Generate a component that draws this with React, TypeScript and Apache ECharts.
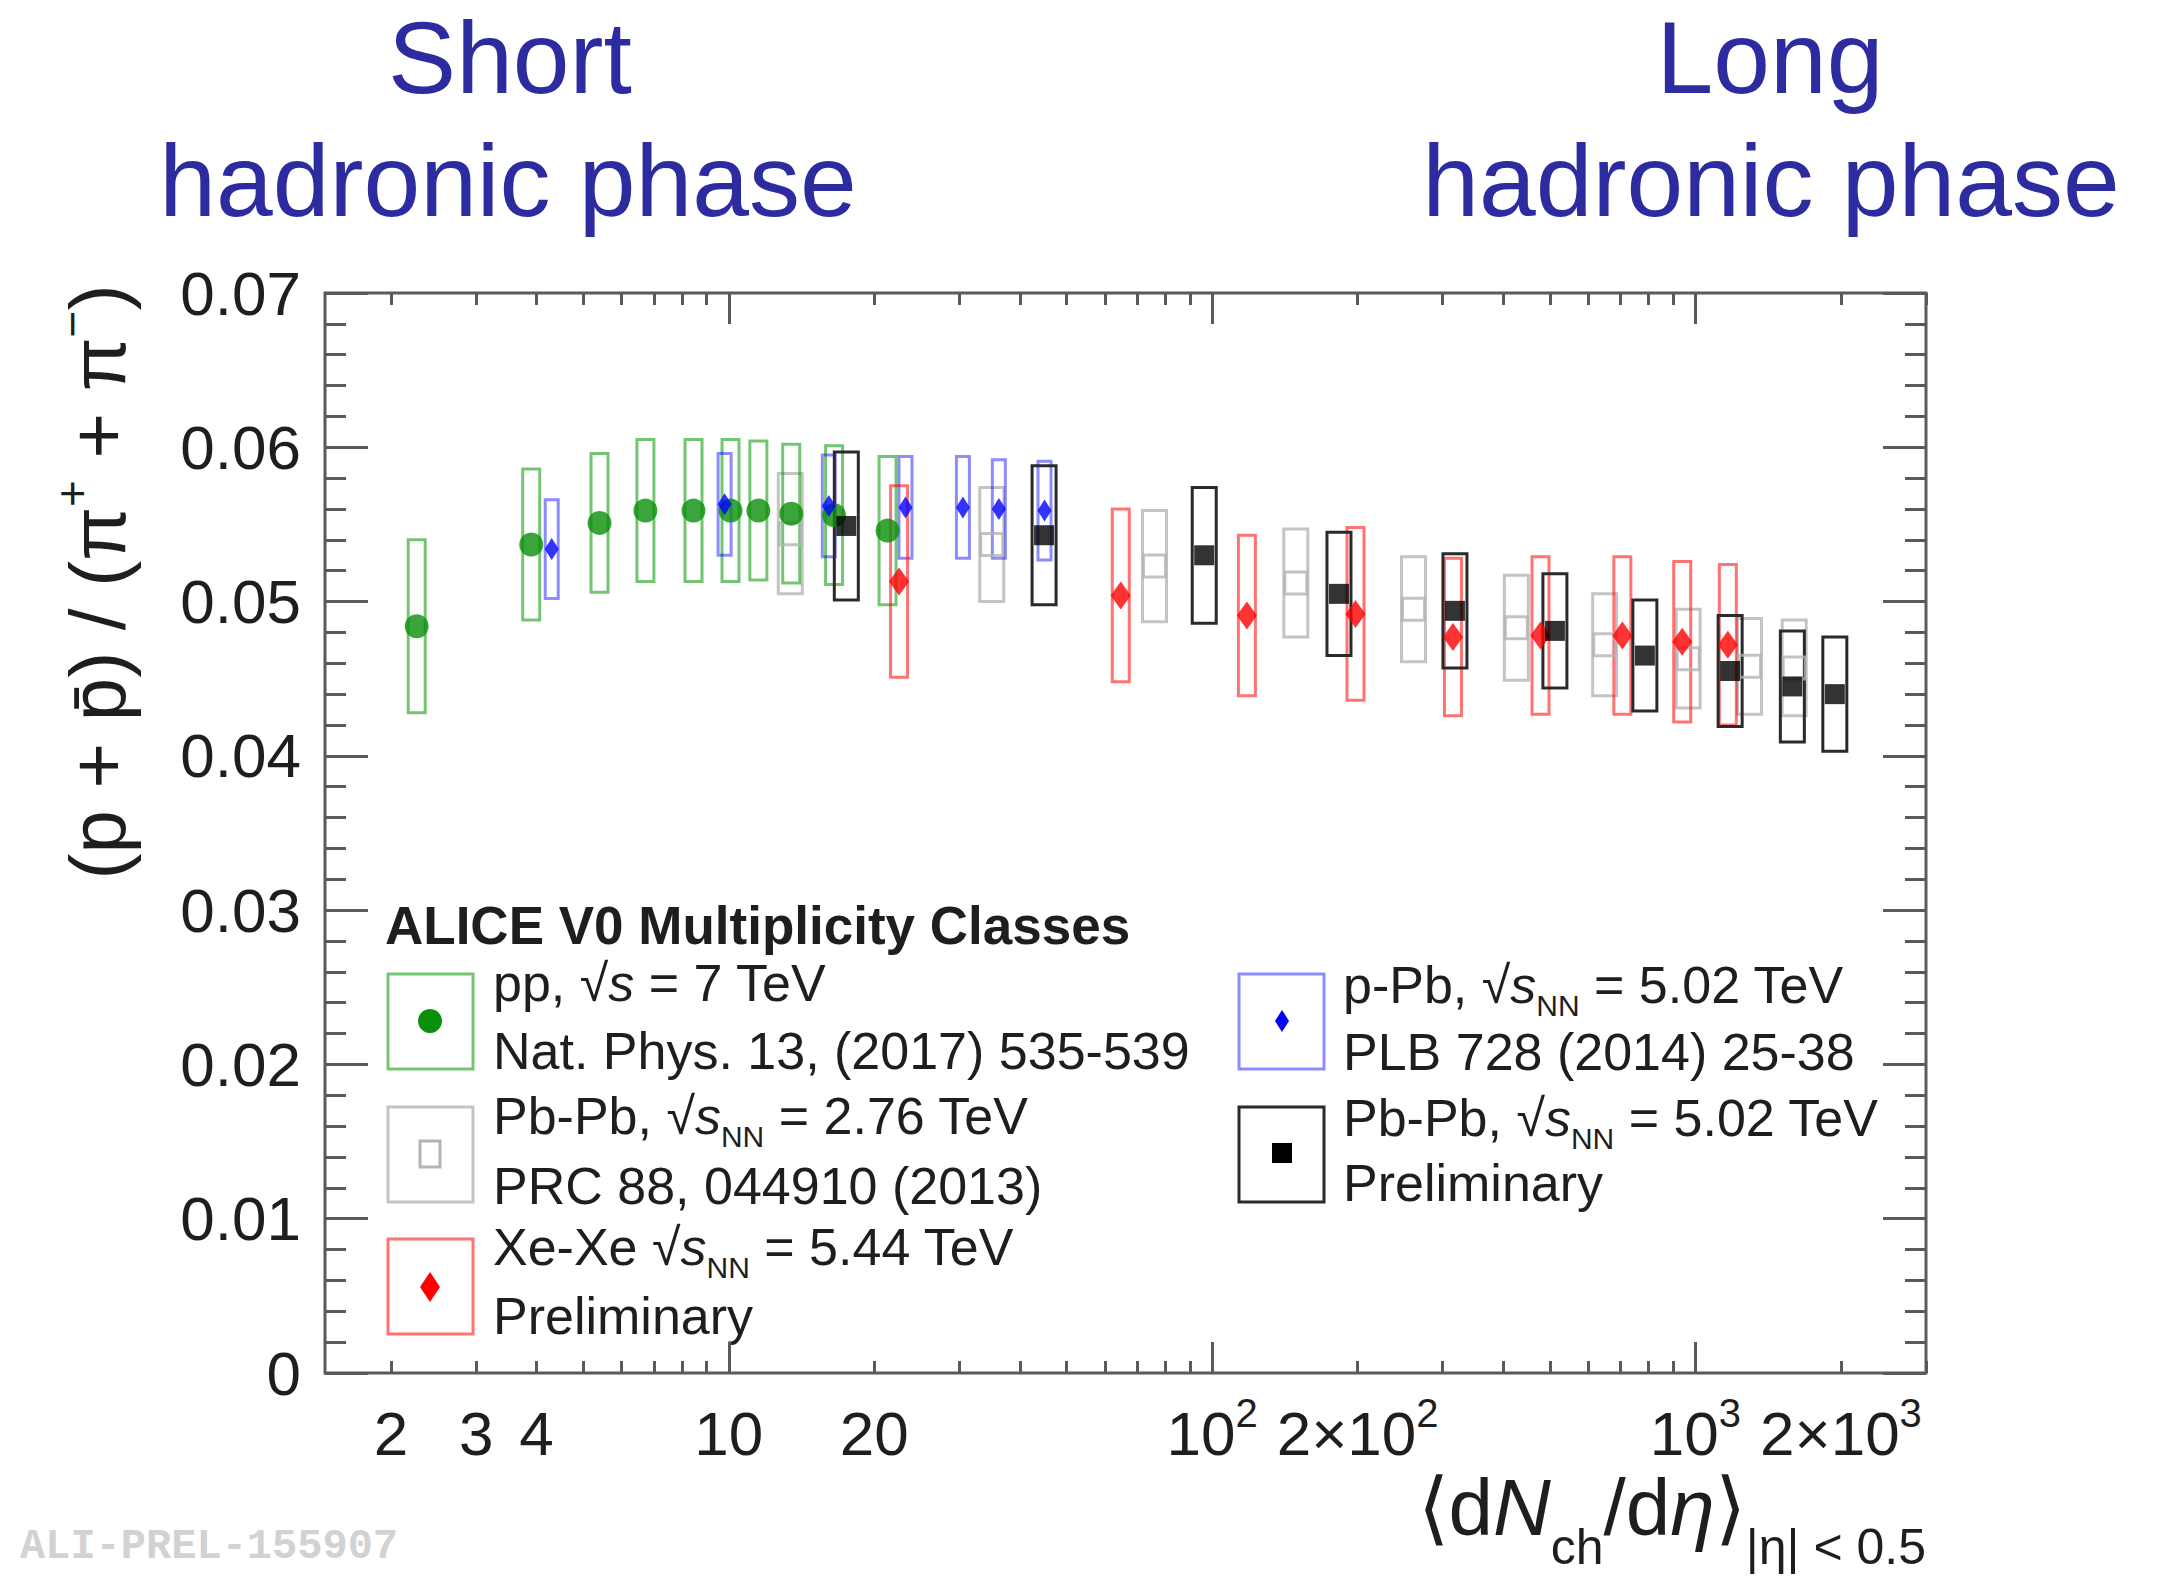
import React, { useEffect, useRef } from 'react';
import * as echarts from 'echarts';

// ---- data ----
const X_MIN = 1.46;
const X_MAX = 3000;
const Y_MIN = 0;
const Y_MAX = 0.07;
const Y_STEP = 0.01;

const X_LABELS = [2, 3, 4, 10, 20, 100, 200, 1000, 2000];
const X_MINOR_TICKS = [2, 3, 4, 5, 6, 7, 8, 9, 20, 30, 40, 50, 60, 70, 80, 90, 200, 300, 400, 500, 600, 700, 800, 900, 2000, 3000];
const X_MAJOR_TICKS = [10, 100, 1000];

// pp, sqrt(s) = 7 TeV
const ppX = [2.26, 3.9, 5.4, 6.72, 8.45, 10.08, 11.51, 13.46, 16.51, 21.3];
const ppY = [0.0484, 0.0537, 0.0551, 0.0559, 0.0559, 0.0559, 0.0559, 0.0557, 0.0556, 0.0546];
const ppSys = [0.0056, 0.0049, 0.0045, 0.0046, 0.0046, 0.0046, 0.0045, 0.0045, 0.0045, 0.0048];

// p-Pb 5.02 TeV
const pPbX = [4.3, 9.8, 16.1, 23.2, 30.5, 36.2, 45.0];
const pPbY = [0.0534, 0.0563, 0.0562, 0.0561, 0.0561, 0.056, 0.0559];
const pPbSys = [0.0032, 0.0033, 0.0033, 0.0033, 0.0033, 0.0032, 0.0032];

// Pb-Pb 2.76 TeV
const pbpb276X = [13.4, 35.0, 76.0, 149, 261, 426, 649, 966, 1294, 1601];
const pbpb276Y = [0.0544, 0.0537, 0.0523, 0.0512, 0.0495, 0.0483, 0.0472, 0.0463, 0.0458, 0.0457];
const pbpb276Sys = [0.0039, 0.0037, 0.0036, 0.0035, 0.0034, 0.0034, 0.0033, 0.0032, 0.0031, 0.0031];

// Xe-Xe 5.44 TeV
const xexeX = [22.5, 64.7, 118, 198, 315, 478, 706, 939, 1167];
const xexeY = [0.0513, 0.0504, 0.0491, 0.0492, 0.0477, 0.0478, 0.0478, 0.0474, 0.0472];
const xexeSys = [0.0062, 0.0056, 0.0052, 0.0056, 0.0051, 0.0051, 0.0051, 0.0052, 0.0052];

// Pb-Pb 5.02 TeV
const pbpb502X = [17.5, 44.9, 96.3, 183, 318, 512, 786, 1180, 1587, 1943];
const pbpb502Y = [0.0549, 0.0543, 0.053, 0.0505, 0.0494, 0.0481, 0.0465, 0.0455, 0.0445, 0.044];
const pbpb502Sys = [0.0048, 0.0045, 0.0044, 0.004, 0.0037, 0.0037, 0.0036, 0.0036, 0.0036, 0.0037];

// ---- styling ----
const FONT = "'Liberation Sans', Arial, Helvetica, sans-serif";
const AXIS_COLOR = '#5a5a5a';
const TEXT_COLOR = '#1e1e1e';
const TITLE_COLOR = '#2c2ca0';

const C = {
  ppBox: 'rgba(0,150,0,0.55)',
  ppMark: '#0a8f0a',
  pPbBox: 'rgba(0,0,255,0.45)',
  pPbMark: '#0000ff',
  g276Box: '#c4c4c4',
  g276Mark: '#b4b4b4',
  xeBox: 'rgba(255,0,0,0.55)',
  xeMark: '#ff0000',
  b502Box: '#2a2a2a',
  b502Mark: '#000000',
};

const L = Math.log10;

function boxSeries(xs: number[], ys: number[], es: number[], color: string, width: number, lw: number) {
  return {
    type: 'custom',
    silent: true,
    xAxisIndex: 0,
    yAxisIndex: 0,
    encode: { x: 0, y: 1 },
    z: 2,
    data: xs.map((x, i) => [L(x), ys[i], es[i]]),
    renderItem: (params: any, api: any) => {
      const x = api.value(0);
      const y = api.value(1);
      const e = api.value(2);
      const top = api.coord([x, y + e]);
      const bot = api.coord([x, y - e]);
      return {
        type: 'rect',
        shape: { x: top[0] - width / 2, y: top[1], width, height: bot[1] - top[1] },
        style: { fill: 'none', stroke: color, lineWidth: lw },
      };
    },
  };
}

function markSeries(xs: number[], ys: number[], symbol: string, size: any, itemStyle: any, z: number) {
  return {
    type: 'scatter',
    silent: true,
    xAxisIndex: 0,
    yAxisIndex: 0,
    z,
    symbol,
    symbolSize: size,
    itemStyle,
    data: xs.map((x, i) => [L(x), ys[i]]),
  };
}

function xLabel(value: number) {
  const n = Math.round(Math.pow(10, value));
  if (n === 100) return '{n|10}{s|2}';
  if (n === 200) return '{n|2×10}{s|2}';
  if (n === 1000) return '{n|10}{s|3}';
  if (n === 2000) return '{n|2×10}{s|3}';
  return '{n|' + n + '}{s|}';
}

const tickLine = { color: AXIS_COLOR, width: 3 };

function xAxisDef(position: 'top' | 'bottom', ticks: number[], len: number, labels: boolean) {
  return {
    type: 'value',
    position,
    min: L(X_MIN),
    max: L(X_MAX),
    axisLine: { show: false },
    splitLine: { show: false },
    axisTick: { show: true, inside: true, length: len, lineStyle: tickLine, customValues: ticks.map(L) },
    axisLabel: labels
      ? {
          show: true,
          customValues: X_LABELS.map(L),
          formatter: xLabel,
          margin: 20,
          color: TEXT_COLOR,
          rich: {
            n: { fontFamily: FONT, fontSize: 62, lineHeight: 62, padding: [9, 0, 0, 0], verticalAlign: 'top', color: TEXT_COLOR },
            s: { fontFamily: FONT, fontSize: 40, lineHeight: 40, verticalAlign: 'top', color: TEXT_COLOR },
          },
        }
      : { show: false },
  };
}

function yAxisDef(position: 'left' | 'right', labels: boolean) {
  return {
    type: 'value',
    position,
    min: Y_MIN,
    max: Y_MAX,
    interval: Y_STEP,
    axisLine: { show: false },
    splitLine: { show: false },
    axisTick: { show: true, inside: true, length: 43, lineStyle: tickLine },
    minorTick: { show: true, splitNumber: 5, length: 21, lineStyle: tickLine },
    axisLabel: labels
      ? {
          show: true,
          margin: 24,
          fontFamily: FONT,
          fontSize: 62,
          color: TEXT_COLOR,
          formatter: (v: number) => (v === 0 ? '0' : v.toFixed(2)),
        }
      : { show: false },
  };
}

// ---- legend / annotation graphics ----
const legRich = {
  t: { fontFamily: FONT, fontSize: 52, lineHeight: 60, verticalAlign: 'top', color: TEXT_COLOR },
  i: { fontFamily: FONT, fontSize: 52, lineHeight: 60, fontStyle: 'italic', verticalAlign: 'top', color: TEXT_COLOR },
  sub: { fontFamily: FONT, fontSize: 30, lineHeight: 30, padding: [31, 0, 0, 0], verticalAlign: 'top', color: TEXT_COLOR },
};

function legText(x: number, y: number, text: string) {
  return {
    type: 'text',
    x,
    y,
    silent: true,
    style: { text, rich: legRich, fontFamily: FONT, fontSize: 52, fill: TEXT_COLOR, align: 'left', verticalAlign: 'middle' },
  };
}

function legBox(x: number, y: number, color: string) {
  return {
    type: 'rect',
    silent: true,
    shape: { x, y, width: 85, height: 95 },
    style: { fill: 'none', stroke: color, lineWidth: 3 },
  };
}

function diamond(cx: number, cy: number, w: number, h: number, color: string) {
  return {
    type: 'polygon',
    silent: true,
    shape: { points: [[cx, cy - h / 2], [cx + w / 2, cy], [cx, cy + h / 2], [cx - w / 2, cy]] },
    style: { fill: color },
  };
}

const titleStyle = (text: string) => ({
  text,
  fontFamily: FONT,
  fontSize: 102,
  lineHeight: 100,
  fill: TITLE_COLOR,
  align: 'center',
  verticalAlign: 'middle',
});

const graphics: any[] = [
  // titles
  { type: 'text', x: 510, y: 58, silent: true, style: titleStyle('Short') },
  { type: 'text', x: 508, y: 181, silent: true, style: titleStyle('hadronic phase') },
  { type: 'text', x: 1770, y: 58, silent: true, style: titleStyle('Long') },
  { type: 'text', x: 1771, y: 181, silent: true, style: titleStyle('hadronic phase') },

  // y-axis title
  {
    type: 'text',
    x: 88,
    y: 582,
    rotation: Math.PI / 2,
    silent: true,
    style: {
      text: '{a|(p + p\u0304) / (π}{sp|+}{a| + π}{sp|−}{a|)}',
      align: 'center',
      verticalAlign: 'middle',
      fill: TEXT_COLOR,
      rich: {
        a: { fontFamily: FONT, fontSize: 78, lineHeight: 78, padding: [10, 0, 0, 0], verticalAlign: 'top', color: TEXT_COLOR },
        sp: { fontFamily: FONT, fontSize: 46, lineHeight: 46, verticalAlign: 'top', color: TEXT_COLOR },
      },
    },
  },

  // x-axis title
  {
    type: 'text',
    x: 1926,
    y: 1467,
    silent: true,
    style: {
      text: '{m|⟨d}{i|N}{sb|ch}{m|/d}{i|η}{m|⟩}{sb||η| < 0.5}',
      align: 'right',
      verticalAlign: 'top',
      fill: TEXT_COLOR,
      rich: {
        m: { fontFamily: FONT, fontSize: 80, lineHeight: 80, verticalAlign: 'top', color: TEXT_COLOR },
        i: { fontFamily: FONT, fontSize: 80, lineHeight: 80, fontStyle: 'italic', verticalAlign: 'top', color: TEXT_COLOR },
        sb: { fontFamily: FONT, fontSize: 50, lineHeight: 46, padding: [55, 0, 0, 0], verticalAlign: 'top', color: TEXT_COLOR },
      },
    },
  },

  // legend header
  { type: 'text', x: 385, y: 925, silent: true, style: { text: 'ALICE V0 Multiplicity Classes', fontFamily: FONT, fontSize: 53, fontWeight: 'bold', fill: TEXT_COLOR, align: 'left', verticalAlign: 'middle' } },

  // legend column 1
  legBox(388, 974, C.ppBox),
  { type: 'circle', silent: true, shape: { cx: 430, cy: 1021, r: 12 }, style: { fill: C.ppMark } },
  legText(493, 987, '{t|pp, √}{i|s}{t| = 7 TeV}'),
  legText(493, 1055, '{t|Nat. Phys. 13, (2017) 535-539}'),

  legBox(388, 1107, C.g276Box),
  { type: 'rect', silent: true, shape: { x: 420, y: 1141, width: 20, height: 26 }, style: { fill: 'none', stroke: C.g276Mark, lineWidth: 3 } },
  legText(493, 1120, '{t|Pb-Pb, √}{i|s}{sub|NN}{t| = 2.76 TeV}'),
  legText(493, 1190, '{t|PRC 88, 044910 (2013)}'),

  legBox(388, 1239, C.xeBox),
  diamond(430, 1287, 20, 30, C.xeMark),
  legText(493, 1251, '{t|Xe-Xe √}{i|s}{sub|NN}{t| = 5.44 TeV}'),
  legText(493, 1320, '{t|Preliminary}'),

  // legend column 2
  legBox(1239, 974, C.pPbBox),
  diamond(1282, 1021, 14, 22, C.pPbMark),
  legText(1343, 989, '{t|p-Pb, √}{i|s}{sub|NN}{t| = 5.02 TeV}'),
  legText(1343, 1056, '{t|PLB 728 (2014) 25-38}'),

  legBox(1239, 1107, C.b502Box),
  { type: 'rect', silent: true, shape: { x: 1272, y: 1143, width: 20, height: 20 }, style: { fill: C.b502Mark } },
  legText(1343, 1122, '{t|Pb-Pb, √}{i|s}{sub|NN}{t| = 5.02 TeV}'),
  legText(1343, 1187, '{t|Preliminary}'),

  // watermark
  { type: 'text', x: 20, y: 1526, silent: true, style: { text: 'ALI-PREL-155907', fontFamily: "'Liberation Mono', 'DejaVu Sans Mono', monospace", fontSize: 42, lineHeight: 42, fontWeight: 'bold', fill: '#d2d2d2', align: 'left', verticalAlign: 'top' } },
];

const option: any = {
  animation: false,
  backgroundColor: '#ffffff',
  grid: {
    left: 325,
    right: 242,
    top: 293,
    bottom: 203,
    show: true,
    borderColor: AXIS_COLOR,
    borderWidth: 3,
    backgroundColor: 'transparent',
  },
  xAxis: [
    xAxisDef('bottom', X_MINOR_TICKS, 12, true),
    xAxisDef('bottom', X_MAJOR_TICKS, 31, false),
    xAxisDef('top', X_MINOR_TICKS, 12, false),
    xAxisDef('top', X_MAJOR_TICKS, 31, false),
  ],
  yAxis: [yAxisDef('left', true), yAxisDef('right', false)],
  series: [
    boxSeries(pbpb276X, pbpb276Y, pbpb276Sys, C.g276Box, 24, 3),
    boxSeries(ppX, ppY, ppSys, C.ppBox, 17, 3),
    boxSeries(pPbX, pPbY, pPbSys, C.pPbBox, 13, 3),
    boxSeries(xexeX, xexeY, xexeSys, C.xeBox, 17, 3),
    boxSeries(pbpb502X, pbpb502Y, pbpb502Sys, C.b502Box, 24, 3),
    markSeries(pbpb276X, pbpb276Y, 'rect', [22, 22], { color: 'rgba(0,0,0,0)', borderColor: C.g276Mark, borderWidth: 3 }, 5),
    markSeries(ppX, ppY, 'circle', 24, { color: C.ppMark }, 6),
    markSeries(pPbX, pPbY, 'diamond', [14, 22], { color: C.pPbMark }, 7),
    markSeries(xexeX, xexeY, 'diamond', [20, 28], { color: C.xeMark }, 8),
    markSeries(pbpb502X, pbpb502Y, 'rect', [20, 20], { color: C.b502Mark }, 9),
  ],
  graphic: graphics,
};

export default function App() {
  const ref = useRef<HTMLDivElement>(null);
  useEffect(() => {
    if (!ref.current) return;
    const chart = echarts.init(ref.current, null, { renderer: 'svg' });
    chart.setOption(option);
    return () => chart.dispose();
  }, []);
  return <div ref={ref} style={{ position: 'absolute', left: 0, top: 0, width: 2168, height: 1576 }} />;
}
